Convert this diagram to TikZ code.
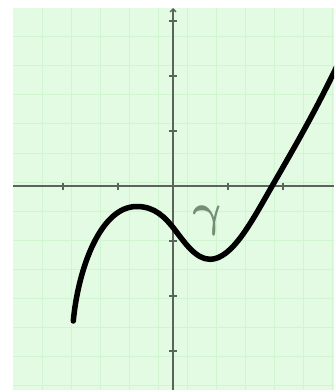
\documentclass[tikz,border=0pt]{standalone}
\usepackage{amsmath}
\usetikzlibrary{arrows.meta}
\definecolor{bgcol}{RGB}{227,251,227}
\definecolor{gridcol}{RGB}{208,245,208}
\definecolor{axiscol}{RGB}{90,100,90}
\definecolor{labelcol}{RGB}{115,142,115}
\begin{document}
\begin{tikzpicture}[x=1pt,y=-1pt,
  axis/.style={draw=axiscol,line width=1.4pt},
  tickmark/.style={draw=axiscol,line width=1.2pt},
  gridline/.style={draw=gridcol,line width=1pt},
  curve/.style={draw=black,line width=5.5pt,line cap=round,line join=round}]
\useasboundingbox (0,0) rectangle (334,390);
\fill[bgcol] (13,8) rectangle (334,390);
\foreach \gx in {42,71,...,332} \draw[gridline] (\gx,8) -- (\gx,390);
\foreach \gy in {37,66,...,385} \draw[gridline] (13,\gy) -- (334,\gy);
\coordinate (xl) at (13,186);
\coordinate (xr) at (334,186);
\coordinate (yb) at (173,390);
\coordinate (yt) at (173,8);
\draw[axis] (xl) -- (xr);
\draw[axis,-{Straight Barb[length=3pt,width=6pt]}] (yb) -- (yt);
\foreach \tx in {63,118,228,283} \draw[tickmark] (\tx,182.5) -- (\tx,189.5);
\foreach \ty in {21,76,131,241,296,351} \draw[tickmark] (169,\ty) -- (177,\ty);
\coordinate (cs) at (73.3,321);
\coordinate (cmax) at (136.7,206.5);
\coordinate (cinf) at (175,230);
\coordinate (cmin) at (210,259.3);
\coordinate (cx) at (271.7,186.7);
\coordinate (ce) at (337,66);
\begin{scope}
\clip (13,8) rectangle (334,390);
\draw[curve] (cs) .. controls (78,270) and (100,206.5) .. (cmax)
  .. controls (154.7,206.5) and (165,217) .. (cinf)
  .. controls (185,243) and (196,259.3) .. (cmin)
  .. controls (232,259.3) and (251.7,221.5) .. (cx)
  .. controls (292,151.5) and (314,114) .. (ce);
\end{scope}
\node[text=labelcol,inner sep=0pt,scale=4.6,xslant=-0.2] (gamma) at (209,221) {$\boldsymbol{\gamma}$};
\end{tikzpicture}
\end{document}
